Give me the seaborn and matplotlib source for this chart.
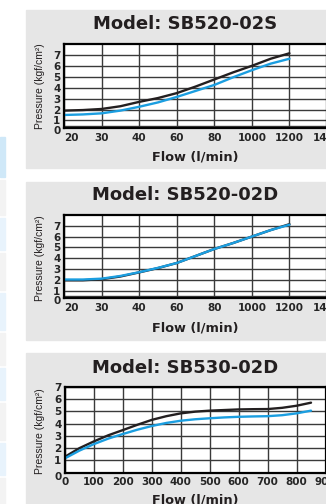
import matplotlib
matplotlib.use("Agg")
import matplotlib.pyplot as plt
import matplotlib.transforms as mtransforms
from matplotlib.patches import Rectangle
import pandas as pd
import seaborn as sns

# ---- SB520 series: flow axis is a stepped scale, positions 0..7 ----
sb520_flow_labels = ["20", "30", "40", "60", "80", "1000", "1200", "1400"]
sb520_pos = [0, 0.5, 1, 1.5, 2, 2.5, 3, 3.5, 4, 4.5, 5, 5.5, 6]

sb520_02s_black = [1.9, 1.95, 2.05, 2.3, 2.7, 3.05, 3.5, 4.1, 4.75, 5.4, 6.0, 6.65, 7.15]
sb520_02s_blue = [1.5, 1.55, 1.65, 1.9, 2.25, 2.65, 3.15, 3.7, 4.25, 4.95, 5.6, 6.2, 6.65]

sb520_02d_black = [1.95, 1.95, 2.05, 2.3, 2.68, 3.08, 3.55, 4.2, 4.85, 5.4, 6.0, 6.6, 7.15]
sb520_02d_blue = [2.02, 2.02, 2.1, 2.35, 2.7, 3.1, 3.55, 4.2, 4.85, 5.4, 6.0, 6.6, 7.1]

# ---- SB530 series: linear flow axis ----
sb530_flow = [0, 50, 100, 150, 200, 250, 300, 350, 400, 450, 500, 550, 600, 650,
              700, 750, 800, 850]
sb530_02d_black = [1.3, 2.0, 2.55, 3.05, 3.47, 3.9, 4.3, 4.6, 4.83, 4.97, 5.05, 5.1,
                   5.15, 5.17, 5.18, 5.28, 5.45, 5.7]
sb530_02d_blue = [1.17, 1.8, 2.33, 2.78, 3.15, 3.5, 3.8, 4.05, 4.23, 4.35, 4.43, 4.5,
                  4.55, 4.58, 4.6, 4.68, 4.83, 5.05]
sb530_flow_ticks = [0, 100, 200, 300, 400, 500, 600, 700, 800, 900]

pressure_ticks = [1, 2, 3, 4, 5, 6, 7]

BLACK = "#231f20"
BLUE = "#1b9ee0"
GRID = "#3a3a3a"
PANEL = "#e6e6e6"

sns.set_style("white")
plt.rcParams["font.family"] = ["DejaVu Sans"]

W, H = 326, 504
fig = plt.figure(figsize=(W / 100, H / 100), dpi=100)
fig.patch.set_facecolor("white")


def fx(px):
    return px / W


def fy(py):
    return 1 - py / H


# side strips of the page
strips = [(137, 177, "#cfe8f8"), (180, 215, "#f3f3f3"), (218, 250, "#e8f3fc"),
          (253, 290, "#f3f3f3"), (293, 330, "#e8f3fc"), (333, 365, "#f3f3f3"),
          (368, 400, "#e8f3fc"), (403, 440, "#f3f3f3"), (443, 475, "#e8f3fc"),
          (478, 504, "#f3f3f3")]
for y0, y1, c in strips:
    fig.add_artist(Rectangle((0, fy(y1)), fx(5), (y1 - y0) / H,
                             transform=fig.transFigure, color=c, zorder=0))

# grey backgrounds behind each chart
for y0, y1 in [(10, 168), (182, 340), (353, 504)]:
    fig.add_artist(Rectangle((fx(26), fy(y1)), fx(W - 26), (y1 - y0) / H,
                             transform=fig.transFigure, color=PANEL, zorder=0))


def style_axes(ax):
    ax.set_facecolor("white")
    for s in ax.spines.values():
        s.set_visible(True)
        s.set_color("black")
        s.set_linewidth(1.6)
    ax.grid(True, which="both", color=GRID, linewidth=1.0)
    ax.set_axisbelow(True)
    ax.tick_params(which="both", length=0)
    ax.tick_params(axis="x", pad=3.2)
    ax.tick_params(axis="y", pad=2.6)
    for lab in ax.get_xticklabels() + ax.get_yticklabels():
        lab.set_fontweight("bold")
        lab.set_fontsize(7.5)
    ax.set_xlabel("")
    ax.set_ylabel("")


def labels(title, title_y, xlabel_y, ylabel_y):
    fig.text(fx(185.5), fy(title_y), title, ha="center", va="center",
             fontsize=13, fontweight="bold", color="#231f20")
    fig.text(fx(195), fy(xlabel_y), "Flow (l/min)", ha="center", va="center",
             fontsize=9.3, fontweight="bold", color="#231f20")
    fig.text(fx(40), fy(ylabel_y), "Pressure (kgf/cm²)", ha="center", va="center",
             rotation=90, fontsize=7.5, family=["Liberation Sans", "DejaVu Sans"],
             color="#231f20")


def sb520_panel(top, bottom, black, blue, title, title_y, xlabel_y, ylabel_y):
    ax = fig.add_axes([fx(64), fy(bottom), (327 - 64) / W, (bottom - top) / H])
    df = pd.DataFrame({"pos": sb520_pos * 2,
                       "pressure": black + blue,
                       "curve": ["black"] * len(black) + ["blue"] * len(blue)})
    sns.lineplot(data=df, x="pos", y="pressure", hue="curve",
                 palette={"black": BLACK, "blue": BLUE}, linewidth=1.7,
                 legend=False, ax=ax, sort=False)
    ax.set_xlim(0, 7)
    ax.set_ylim(0.28, 8.0)
    ax.set_xticks(range(len(sb520_flow_labels)))
    ax.set_xticklabels(sb520_flow_labels)
    ax.set_yticks(pressure_ticks)
    ax.set_yticks([0.5], minor=True)
    style_axes(ax)
    # first flow label sits just right of the origin
    first = ax.get_xticklabels()[0]
    first.set_transform(first.get_transform() +
                        mtransforms.ScaledTranslation(7 / 100, 0, fig.dpi_scale_trans))
    ax.annotate("0", xy=(0, 0), xycoords="axes fraction", xytext=(-5, -1.8),
                textcoords="offset points", ha="center", va="center",
                fontsize=7.5, fontweight="bold", annotation_clip=False)
    labels(title, title_y, xlabel_y, ylabel_y)
    return ax


sb520_panel(44, 128.3, sb520_02s_black, sb520_02s_blue, "Model: SB520-02S", 24, 157, 86)
sb520_panel(215, 298.3, sb520_02d_black, sb520_02d_blue, "Model: SB520-02D", 195, 328, 258)

# SB530-02D
ax3 = fig.add_axes([fx(65), fy(472.7), (325.5 - 65) / W, (472.7 - 386.7) / H])
df3 = pd.DataFrame({"flow": sb530_flow * 2,
                    "pressure": sb530_02d_black + sb530_02d_blue,
                    "curve": ["black"] * len(sb530_flow) + ["blue"] * len(sb530_flow)})
sns.lineplot(data=df3, x="flow", y="pressure", hue="curve",
             palette={"black": BLACK, "blue": BLUE}, linewidth=1.7,
             legend=False, ax=ax3, sort=False)
ax3.set_xlim(0, 900)
ax3.set_ylim(0, 7)
ax3.set_xticks(sb530_flow_ticks)
ax3.set_yticks([0] + pressure_ticks)
style_axes(ax3)
zero = ax3.get_yticklabels()[0]
zero.set_transform(zero.get_transform() +
                   mtransforms.ScaledTranslation(0, -3 / 100, fig.dpi_scale_trans))
labels("Model: SB530-02D", 368, 500, 431)

fig.savefig("out.png", dpi=100)
